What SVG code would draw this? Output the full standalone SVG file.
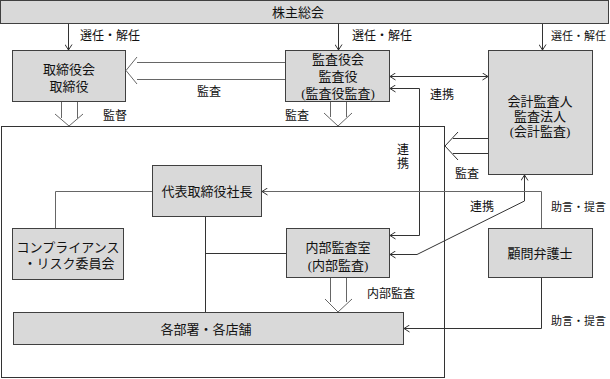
<svg xmlns="http://www.w3.org/2000/svg" width="610" height="379" viewBox="0 0 610 379">
<defs>
<marker id="ah" viewBox="0 0 6 8" refX="6" refY="4" markerWidth="6" markerHeight="8" markerUnits="userSpaceOnUse" orient="auto-start-reverse">
<path d="M0.5,0.5 L6,4 L0.5,7.5" fill="none" stroke="#333" stroke-width="1"/>
</marker>
<style>
.box{fill:#d9d9d9;stroke:#404040;stroke-width:1}
.frame{fill:none;stroke:#333;stroke-width:1}
.ln{fill:none;stroke:#333;stroke-width:1}
.gl{fill:none;stroke:#666;stroke-width:1}
text{font-family:"Liberation Serif","Noto Sans CJK JP",serif;fill:#111;dominant-baseline:central}
.t{font-size:13px;text-anchor:middle}
.s{font-size:12px}
.r{font-size:11px}
</style>
</defs>
<rect class="frame" x="1.5" y="126.5" width="443" height="251"/>
<g id="shareholders"><rect class="box" x="0.5" y="0.5" width="608" height="23"/><text class="t" x="298" y="12">株主総会</text></g>
<g id="board"><rect class="box" x="12.5" y="50.5" width="113" height="51"/><text class="t" x="69" y="69">取締役会</text><text class="t" x="69" y="86">取締役</text></g>
<g id="auditors"><rect class="box" x="285.5" y="50.5" width="104" height="51"/><text class="t" x="338" y="59">監査役会</text><text class="t" x="338" y="76">監査役</text><text class="t" x="338" y="93">(監査役監査)</text></g>
<g id="accountant"><rect class="box" x="488.5" y="50.5" width="104" height="124"/><text class="t" x="540" y="101">会計監査人</text><text class="t" x="540" y="116">監査法人</text><text class="t" x="540" y="131">(会計監査)</text></g>
<g id="president"><rect class="box" x="152.5" y="165.5" width="109" height="51"/><text class="t" x="207" y="191">代表取締役社長</text></g>
<g id="compliance"><rect class="box" x="12.5" y="228.5" width="111" height="51"/><text class="t" x="68" y="247">コンプライアンス</text><text class="t" x="69" y="263">・リスク委員会</text></g>
<g id="internal"><rect class="box" x="286.5" y="228.5" width="103" height="49"/><text class="t" x="338" y="247">内部監査室</text><text class="t" x="338" y="265">(内部監査)</text></g>
<g id="lawyer"><rect class="box" x="488.5" y="228.5" width="104" height="49"/><text class="t" x="540" y="253">顧問弁護士</text></g>
<g id="departments"><rect class="box" x="13.5" y="312.5" width="390" height="32"/><text class="t" x="206" y="329">各部署・各店舗</text></g>
<g id="connectors">
<path class="ln" d="M68.5,24 V50" marker-end="url(#ah)"/>
<path class="ln" d="M338.5,24 V50" marker-end="url(#ah)"/>
<path class="ln" d="M542.5,24 V50" marker-end="url(#ah)"/>
<path class="gl" d="M285,62.5 H137 M285,79.5 H137 M137,57 L126,70.5 L137,84"/>
<path class="gl" d="M61.5,102 V118 M77.5,102 V118 M55,114 L69,126 L83,114"/>
<path class="gl" d="M330.5,102 V117 M346.5,102 V117 M324,113 L338,126 L352,113"/>
<path class="ln" d="M488,138.5 H453 M488,153.5 H453 M458,132 L445,146 L458,160"/>
<path class="gl" d="M330.5,278 V302 M346.5,278 V302 M325,299 L338,312 L352,299"/>
<path class="ln" d="M390,76.5 H488" marker-start="url(#ah)" marker-end="url(#ah)"/>
<path class="ln" d="M390,88.5 H419.5 V235.5 H390" marker-start="url(#ah)" marker-end="url(#ah)"/>
<path class="ln" d="M390,254.5 H417 L524.5,201 V175" marker-start="url(#ah)" marker-end="url(#ah)"/>
<path class="gl" d="M541.5,228 V191.5 H262" marker-end="url(#ah)"/>
<path class="ln" d="M541.5,278 V328.5 H404" marker-end="url(#ah)"/>
<path class="gl" d="M152,191.5 H55.5 V228"/>
<path class="ln" d="M205.5,217 V312 M205.5,253.5 H286"/>
</g>
<g id="labels">
<text class="s" x="80" y="36">選任・解任</text>
<text class="s" x="352" y="36">選任・解任</text>
<text class="r" x="551" y="36">選任・解任</text>
<text class="s" x="197" y="92">監査</text>
<text class="s" x="103" y="116">監督</text>
<text class="s" x="285" y="116">監査</text>
<text class="s" x="430" y="95">連携</text>
<text class="s" x="397" y="150">連</text>
<text class="s" x="397" y="164">携</text>
<text class="s" x="455" y="174">監査</text>
<text class="s" x="470" y="207">連携</text>
<text class="r" x="551" y="207">助言・提言</text>
<text class="s" x="367" y="294">内部監査</text>
<text class="r" x="551" y="321">助言・提言</text>
</g>
</svg>
